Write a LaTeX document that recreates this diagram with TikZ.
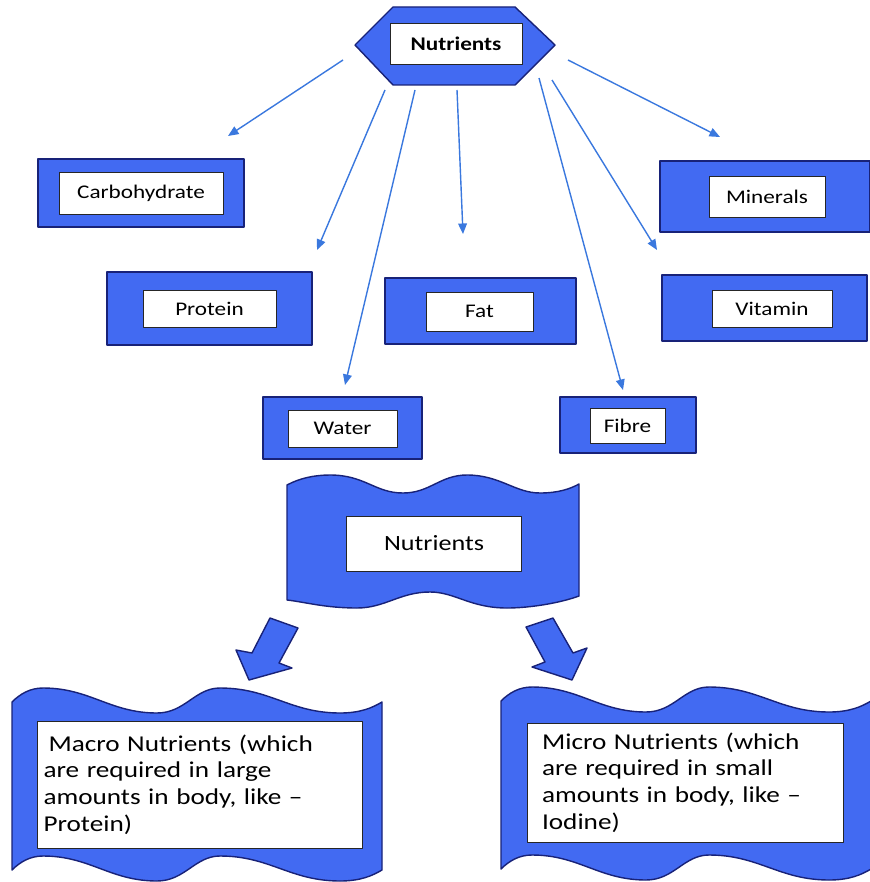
\documentclass[tikz,border=0pt]{standalone}
\usepackage{fontspec}
\usepackage{tikz}
\usetikzlibrary{arrows.meta}
\setmainfont{Carlito}[FakeStretch=1.2]
\definecolor{boxblue}{RGB}{66,106,242}
\definecolor{edgeblue}{RGB}{24,34,120}
\definecolor{linkblue}{RGB}{58,120,222}
\tikzset{
  outer/.style={draw=edgeblue,fill=boxblue,line width=0.8pt,inner sep=0pt},
  inner/.style={draw=black!85,fill=white,line width=0.5pt,inner sep=0pt,
    font=\fontsize{11}{13}\selectfont},
  bigtext/.style={inner,align=left,font=\fontsize{12.9}{15.2}\selectfont},
  link/.style={linkblue,line width=0.8pt,-{Triangle[length=6pt,width=5pt]}}
}

\begin{document}
\begin{tikzpicture}[x=0.02cm,y=-0.02cm,join=round] % nutrients chart
        \useasboundingbox (0,0) rectangle (869,882);
        % top hexagon
        \filldraw[outer](393,7)--(515,7)--(555,45)--(515,85)--(393,85)--(355,45)--cycle;
        \node[inner,minimum width=2.64cm,minimum height=0.82cm,font=\bfseries\fontsize{11}{13}\selectfont] (nutr) at (456,43.5) {Nutrients};
        % the seven groups
        \node[outer,minimum width=4.12cm,minimum height=1.36cm] (carbbox) at (141,193) {};
        \node[inner,minimum width=3.28cm,minimum height=0.84cm] (carb) at (carbbox) {Carbohydrate};
        \node[outer,minimum width=4.1cm,minimum height=1.46cm] (protbox) at (209.5,308.5) {};
        \node[inner,minimum width=2.66cm,minimum height=0.74cm] (prot) at (protbox) {Protein};
        \node[outer,minimum width=3.82cm,minimum height=1.32cm] (fatbox) at (480.5,311) {};
        \node[inner,minimum width=2.14cm,minimum height=0.78cm] (fat) at (479.5,311.5) {Fat};
        \node[outer,minimum width=4.2cm,minimum height=1.42cm] (minbox) at (765,196.5) {};
        \node[inner,minimum width=2.32cm,minimum height=0.82cm] (min) at (767,196.5) {Minerals};
        \node[outer,minimum width=4.1cm,minimum height=1.32cm] (vitbox) at (764.5,308) {};
        \node[inner,minimum width=2.4cm,minimum height=0.74cm] (vit) at (772,308.5) {Vitamin};
        \node[outer,minimum width=3.18cm,minimum height=1.24cm] (watbox) at (342.5,428) {};
        \node[inner,minimum width=2.18cm,minimum height=0.74cm] (wat) at (342.5,428.5) {Water};
        \node[outer,minimum width=2.72cm,minimum height=1.12cm] (fibbox) at (628,425) {};
        \node[inner,minimum width=1.5cm,minimum height=0.7cm] (fib) at (627.5,425.5) {Fibre};
        % thin arrows
        \coordinate (carbS) at (343,60);  \coordinate (carbT) at (228,136);
        \coordinate (protS) at (385,90);  \coordinate (protT) at (317,250);
        \coordinate (watS) at (415,90);   \coordinate (watT) at (345,385);
        \coordinate (fatS) at (457,90);   \coordinate (fatT) at (463,234);
        \coordinate (fibS) at (539,78);   \coordinate (fibT) at (623,390);
        \coordinate (vitS) at (552,80);   \coordinate (vitT) at (657,250);
        \coordinate (minS) at (568,60);   \coordinate (minT) at (720,137);
        \draw[link] (carbS) -- (carbT);
        \draw[link] (protS) -- (protT);
        \draw[link] (watS) -- (watT);
        \draw[link] (fatS) -- (fatT);
        \draw[link] (fibS) -- (fibT);
        \draw[link] (vitS) -- (vitT);
        \draw[link] (minS) -- (minT);
        % wave banner
        \filldraw[outer](287,485) .. controls (300,478) and (315,475) .. (330,475)
                .. controls (365,475) and (375,493) .. (403,493)
                .. controls (430,493) and (440,475) .. (467,475)
                .. controls (500,475) and (515,493) .. (540,493)
                .. controls (558,493) and (570,489) .. (579,484)
                -- (579,596) .. controls (560,603) and (530,608) .. (507,608)
                .. controls (470,608) and (455,592) .. (430,592)
                .. controls (400,592) and (385,608) .. (357,608)
                .. controls (325,608) and (305,602) .. (287,600) -- cycle;
        \node[inner,minimum width=3.5cm,minimum height=1.1cm,font=\fontsize{12.4}{14}\selectfont] (banner) at (434,543.5) {Nutrients};
        % block arrows
        \filldraw[outer](270,618)--(298,628)--(279,663)--(292,668)--(249,680)--(236,650)--(252,653)--cycle;
        \filldraw[outer](526,627)--(553,618)--(573,653)--(587,648)--(572,680)--(532,667)--(545,662)--cycle;
        % lower wave boxes
        \filldraw[outer](12,702) .. controls (20,694) and (30,688) .. (43,688)
                .. controls (90,688) and (110,713) .. (157,713)
                .. controls (185,713) and (195,688) .. (220,688)
                .. controls (270,688) and (290,713) .. (340,713)
                .. controls (360,713) and (372,708) .. (382,702)
                -- (382,870) .. controls (372,876) and (360,881) .. (340,881)
                .. controls (290,881) and (270,856) .. (220,856)
                .. controls (195,856) and (185,881) .. (157,881)
                .. controls (110,881) and (90,856) .. (43,856)
                .. controls (30,856) and (20,862) .. (12,870) -- cycle;
        \filldraw[outer](501,701) .. controls (509,693) and (519,687) .. (532,687)
                .. controls (579,687) and (599,712) .. (646,712)
                .. controls (674,712) and (684,687) .. (709,687)
                .. controls (759,687) and (779,712) .. (829,712)
                .. controls (849,712) and (861,707) .. (871,701)
                -- (871,869) .. controls (861,875) and (849,880) .. (829,880)
                .. controls (779,880) and (759,855) .. (709,855)
                .. controls (684,855) and (674,880) .. (646,880)
                .. controls (599,880) and (579,855) .. (532,855)
                .. controls (519,855) and (509,861) .. (501,869) -- cycle;
        \node[bigtext,minimum width=6.5cm,minimum height=2.54cm,text width=6.24cm,inner xsep=0.13cm] (macro) at (199.5,784.5)
                {\hspace{0.1cm}Macro Nutrients (which\\are required in large\\amounts in body, like –\\Protein)};
        \node[bigtext,minimum width=6.32cm,minimum height=2.38cm,text width=5.72cm,inner xsep=0.3cm] (micro) at (685,782.5)
                {Micro Nutrients (which\\are required in small\\amounts in body, like –\\Iodine)};
\end{tikzpicture}
\end{document}
